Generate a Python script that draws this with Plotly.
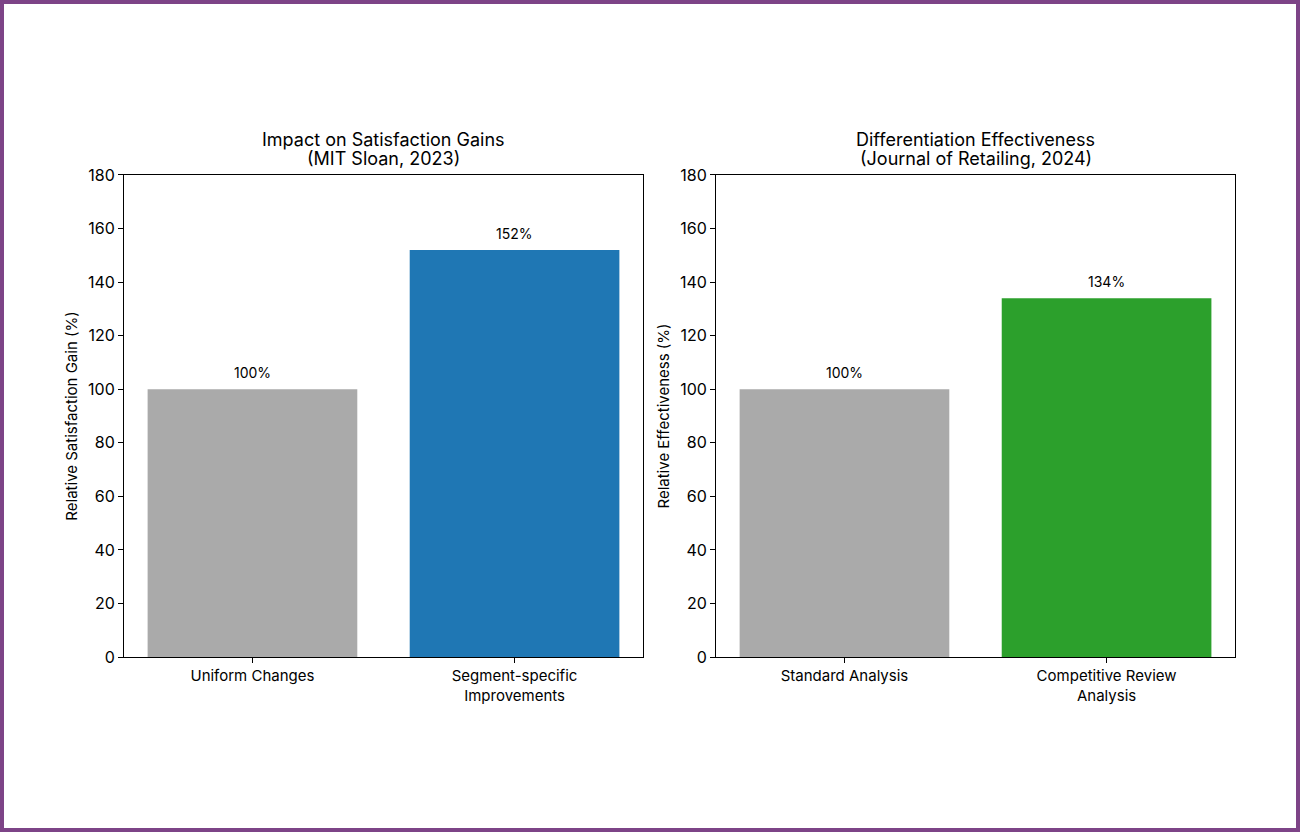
import plotly.graph_objects as go
from plotly.subplots import make_subplots

# ── Data ──────────────────────────────────────────────────────────────────────
left_categories = ["Uniform Changes", "Segment-specific<br>Improvements"]
left_values = [100, 152]
right_categories = ["Standard Analysis", "Competitive Review<br>Analysis"]
right_values = [100, 134]

left_colors = ["#aaaaaa", "#1f77b4"]
right_colors = ["#aaaaaa", "#2ca02c"]

y_ticks = [0, 20, 40, 60, 80, 100, 120, 140, 160, 180]

_FONT = "Inter, Roboto, sans-serif"

fig = make_subplots(rows=1, cols=2, horizontal_spacing=0.056)

panels = [
    (left_categories, left_values, left_colors, "x", "y"),
    (right_categories, right_values, right_colors, "x2", "y2"),
]
for i, (cats, vals, colors, xr, yr) in enumerate(panels, start=1):
    fig.add_trace(
        go.Bar(
            x=cats,
            y=vals,
            marker=dict(color=colors, line=dict(width=0)),
            width=0.8,
            showlegend=False,
        ),
        row=1,
        col=i,
    )
    # value labels above the bars
    for c, v in zip(cats, vals):
        fig.add_annotation(
            x=c, y=v, xref=xr, yref=yr,
            text=f"{v}%", showarrow=False,
            yanchor="bottom", yshift=6,
            font=dict(size=14, color="#000000", family=_FONT),
        )

axis_common = dict(
    showline=True, linecolor="#000000", linewidth=1, mirror=True,
    ticks="outside", ticklen=5, tickcolor="#000000",
    showgrid=False, zeroline=False, automargin=False,
    tickfont=dict(size=16, color="#000000", family=_FONT),
)

fig.update_xaxes(**axis_common, range=[-0.49, 1.49])
fig.update_xaxes(tickfont=dict(size=15, color="#000000", family=_FONT))
fig.update_xaxes(domain=[0.0954, 0.4946], row=1, col=1)
fig.update_xaxes(domain=[0.5508, 0.95], row=1, col=2)
fig.update_yaxes(**axis_common, range=[0, 180], tickvals=y_ticks,
                 domain=[0.2103, 0.7897])
fig.update_yaxes(title=dict(text="Relative Satisfaction Gain (%)",
                            font=dict(size=15, family=_FONT, color="#000000"),
                            standoff=6), row=1, col=1)
fig.update_yaxes(title=dict(text="Relative Effectiveness (%)",
                            font=dict(size=15, family=_FONT, color="#000000"),
                            standoff=6), row=1, col=2)

# two-line panel titles, one annotation per line for tighter spacing
titles = [
    (("Impact on Satisfaction Gains", "(MIT Sloan, 2023)"), (0.0954 + 0.4946) / 2),
    (("Differentiation Effectiveness", "(Journal of Retailing, 2024)"), (0.5508 + 0.95) / 2),
]
for lines, xc in titles:
    for text, ypx in zip(lines, (139, 158)):
        fig.add_annotation(
            x=xc, y=1 - ypx / 832, xref="paper", yref="paper",
            text=text, showarrow=False, xanchor="center", yanchor="middle",
            font=dict(size=18, color="#000000", family=_FONT),
        )

# purple frame round the page
fig.add_shape(type="rect", xref="paper", yref="paper",
              x0=2 / 1300, x1=1 - 2 / 1300, y0=2 / 832, y1=1 - 2 / 832,
              line=dict(color="#7d4487", width=4))

fig.update_layout(
    width=1300,
    height=832,
    margin=dict(l=0, r=0, t=0, b=0),
    paper_bgcolor="#ffffff",
    plot_bgcolor="#ffffff",
    font=dict(family=_FONT, color="#000000"),
    bargap=0.2,
)

# pin the graph to the top-left corner of the page
pin_js = (
    "document.body.style.margin='0';"
    "document.documentElement.style.overflow='hidden';"
    "var gd=document.getElementById('{plot_id}');"
    "gd.style.position='fixed';gd.style.top='0';gd.style.left='0';"
)

fig.write_html(
    "out.html",
    config={"displayModeBar": False},
    post_script=pin_js,
)
